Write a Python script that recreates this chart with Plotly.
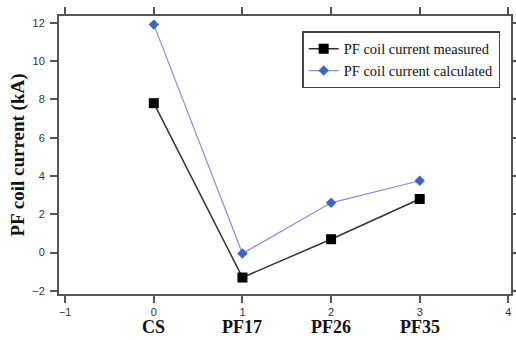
import plotly.graph_objects as go

# Coil positions and their names
positions = [0, 1, 2, 3]
coil_names = ["CS", "PF17", "PF26", "PF35"]

# Currents in kA
measured = [7.8, -1.3, 0.7, 2.8]
calculated = [11.9, -0.05, 2.6, 3.75]

x_ticks = [-1, 0, 1, 2, 3, 4]
y_ticks = [-2, 0, 2, 4, 6, 8, 10, 12]

serif = "Liberation Serif, Times New Roman, serif"
sans = "Liberation Sans, Arial, sans-serif"

fig = go.Figure()
fig.add_trace(go.Scatter(
    x=positions, y=measured, mode="lines+markers",
    name="PF coil current measured",
    line=dict(color="#333333", width=1.5),
    marker=dict(symbol="square", size=10, color="#000000"),
))
fig.add_trace(go.Scatter(
    x=positions, y=calculated, mode="lines+markers",
    name="PF coil current calculated",
    line=dict(color="#8a8ae0", width=1.2),
    marker=dict(symbol="diamond", size=8, color="#3a66c8"),
))

# Coil names under the numeric ticks
for pos, name in zip(positions, coil_names):
    fig.add_annotation(
        x=pos, xref="x", y=-0.075, yref="paper", yanchor="top",
        text="<b>" + name + "</b>", showarrow=False,
        font=dict(family=serif, size=18, color="#111"),
    )

axis_common = dict(
    showline=True, linecolor="#555555", linewidth=2, mirror="ticks",
    ticks="outside", ticklen=7, tickwidth=1.5, tickcolor="#555555",
    showgrid=False, zeroline=False, automargin=False,
)

fig.update_layout(
    width=516, height=340,
    margin=dict(l=59, r=5, t=16, b=46),
    paper_bgcolor="white", plot_bgcolor="white",
    showlegend=True,
    legend=dict(
        x=0.538, y=0.945, xanchor="left", yanchor="top",
        bordercolor="#444444", borderwidth=1.5, bgcolor="white",
        font=dict(family=serif, size=14.5, color="#111"),
        tracegroupgap=0, itemwidth=30,
    ),
    xaxis=dict(
        range=[-1.07, 4.03], tickmode="array", tickvals=x_ticks,
        ticktext=[str(t).replace("-", "\u2212") for t in x_ticks],
        tickfont=dict(family=sans, size=11, color="#333"),
        **axis_common,
    ),
    yaxis=dict(
        range=[-2.16, 12.35], tickmode="array", tickvals=y_ticks,
        ticktext=[str(t).replace("-", "\u2212") for t in y_ticks],
        tickfont=dict(family=sans, size=11, color="#333"),
        ticklabelstandoff=3,
        title=dict(text="<b>PF coil current (kA)</b>",
                   font=dict(family=serif, size=19, color="#111"), standoff=3),
        **axis_common,
    ),
)

fig.write_html("out.html")
